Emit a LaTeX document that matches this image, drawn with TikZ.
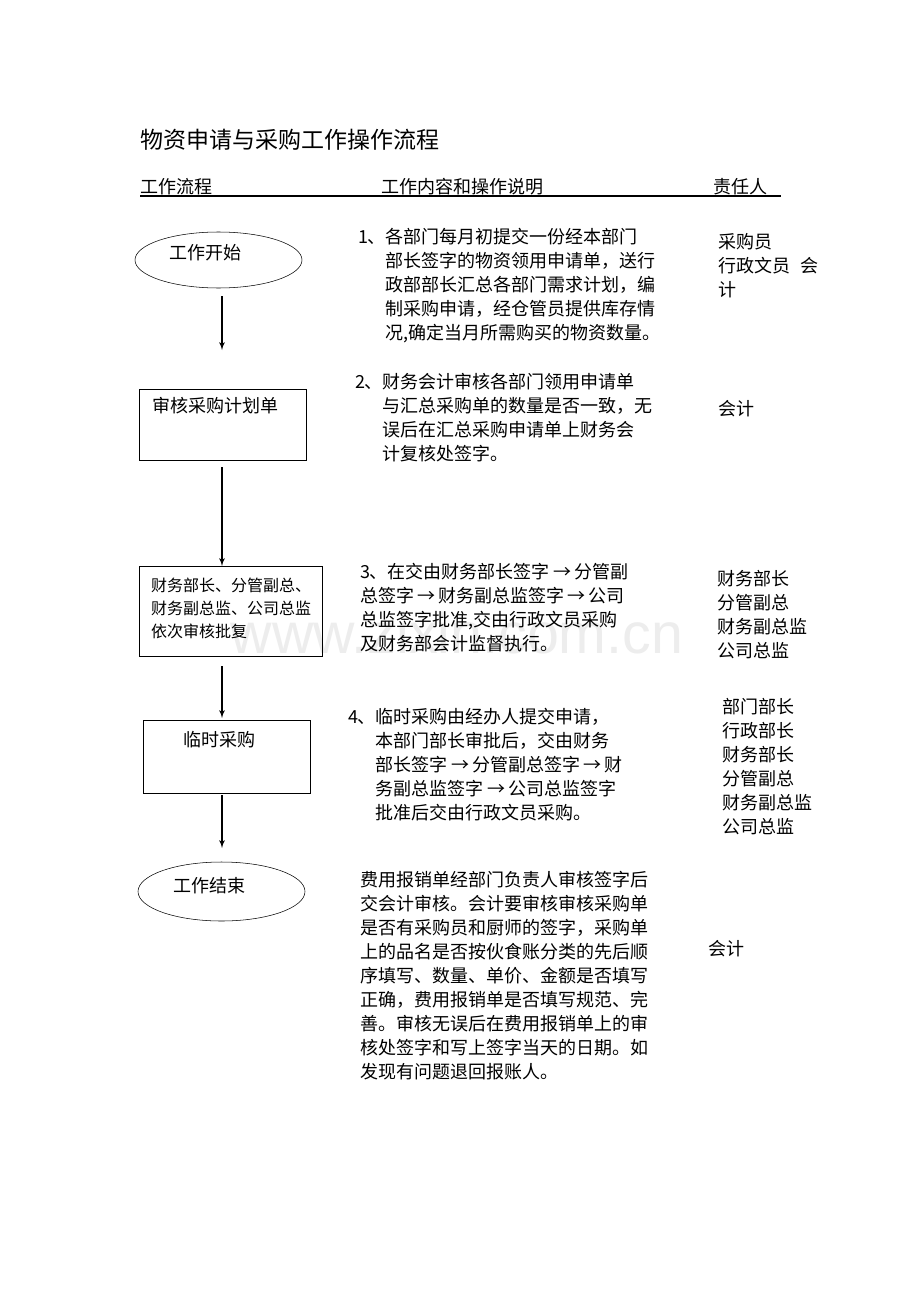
\documentclass[tikz,border=0pt]{standalone}
\usepackage{fontspec}
\setmainfont{Noto Sans CJK SC}
\newfontfamily\markfont{Liberation Sans}
\usetikzlibrary{arrows,positioning,shapes}
\newcommand{\nextstep}{\hspace{.18em}→\hspace{.18em}}

\begin{document}
\begin{tikzpicture}[>=latex',x=0.75pt,y=-0.75pt,thin]
\tikzstyle{every node}=[inner sep=0pt,outer sep=0pt]
\tikzstyle{terminal}=[draw,ellipse,minimum width=125.25pt]
\tikzstyle{stepbox}=[draw,rectangle]
\tikzstyle{label}=[font=\fontsize{13.5}{18}\selectfont,anchor=west]
\tikzstyle{desc}=[font=\fontsize{13.5}{18}\selectfont,align=left,anchor=north west]
\tikzstyle{flow}=[->,line width=1pt]

\path[fill=white] (0,0) rectangle (920,1302);

% watermark
\node[text=gray!14,font=\markfont\fontsize{43}{43}\selectfont] (mark) at (457,633) {www.zixin.com.cn};

% title and header
\node[label,font=\fontsize{17.25}{20}\selectfont] (title) at (140,140) {物资申请与采购工作操作流程};
\node[label] (hflow) at (140,187) {工作流程};
\node[label] (hdesc) at (381,187) {工作内容和操作说明};
\node[label] (hduty) at (713,187) {责任人};
\draw[line width=1pt] (140,196) -- (781,196);

% flow column
\node[terminal,minimum height=42pt]		(start)   at (218.5,260) {};
\node[stepbox,minimum width=125.25pt,minimum height=53.25pt] (plan)    at (222.5,424.5) {};
\node[stepbox,minimum width=137.25pt,minimum height=67.5pt]  (approve) at (230.5,611) {};
\node[stepbox,minimum width=125.25pt,minimum height=54.75pt] (temp)    at (226.5,756.5) {};
\node[terminal,minimum height=44.25pt]		(finish)  at (221.5,891.5) {};

\node[label] (tstart) at (169,253) {工作开始};
\node[label] (tplan) at (152,406) {审核采购计划单};
\node[desc,font=\fontsize{12}{17.6}\selectfont] (tapprove) at (151,577.5)
  {财务部长、分管副总、\\财务副总监、公司总监\\依次审核批复};
\node[label] (ttemp) at (183,740) {临时采购};
\node[label] (tfinish) at (173,886) {工作结束};

\coordinate (ax) at (222,0);
\path[flow]
(start.south -| ax) edge[shorten <=6pt,shorten >=29.25pt] (plan.north -| ax)
(plan.south -| ax) edge[shorten <=5.25pt] (approve.north -| ax)
(approve.south -| ax) edge[shorten <=7.5pt,shorten >=1.5pt] (temp.north -| ax)
(temp.south -| ax) edge[shorten <=1.5pt,shorten >=10.5pt] (finish.north -| ax);

% description column
\node[desc] (d1) at (358,228) {1、各部门每月初提交一份经本部门\\
  \phantom{1、}部长签字的物资领用申请单，送行\\
  \phantom{1、}政部部长汇总各部门需求计划，编\\
  \phantom{1、}制采购申请，经仓管员提供库存情\\
  \phantom{1、}况,确定当月所需购买的物资数量。};
\node[desc] (d2) at (355,373) {2、财务会计审核各部门领用申请单\\
  \phantom{2、}与汇总采购单的数量是否一致，无\\
  \phantom{2、}误后在汇总采购申请单上财务会\\
  \phantom{2、}计复核处签字。};
\node[desc] (d3) at (360,563) {3、在交由财务部长签字\nextstep 分管副\\
  总签字\nextstep 财务副总监签字\nextstep 公司\\
  总监签字批准,交由行政文员采购\\
  及财务部会计监督执行。};
\node[desc] (d4) at (348,708) {4、临时采购由经办人提交申请，\\
  \phantom{4、}本部门部长审批后，交由财务\\
  \phantom{4、}部长签字\nextstep 分管副总签字\nextstep 财\\
  \phantom{4、}务副总监签字\nextstep 公司总监签字\\
  \phantom{4、}批准后交由行政文员采购。};
\node[desc] (d5) at (360,871) {费用报销单经部门负责人审核签字后\\
  交会计审核。会计要审核审核采购单\\
  是否有采购员和厨师的签字，采购单\\
  上的品名是否按伙食账分类的先后顺\\
  序填写、数量、单价、金额是否填写\\
  正确，费用报销单是否填写规范、完\\
  善。审核无误后在费用报销单上的审\\
  核处签字和写上签字当天的日期。如\\
  发现有问题退回报账人。};

% duty column
\node[desc] (r1) at (718,233) {采购员\\行政文员\hspace{.6em}会\\计};
\node[label] (r2) at (718,409) {会计};
\node[desc] (r3) at (717,570) {财务部长\\分管副总\\财务副总监\\公司总监};
\node[desc] (r4) at (722,698) {部门部长\\行政部长\\财务部长\\分管副总\\财务副总监\\公司总监};
\node[label] (r5) at (708,949) {会计};
\end{tikzpicture}
\end{document}
